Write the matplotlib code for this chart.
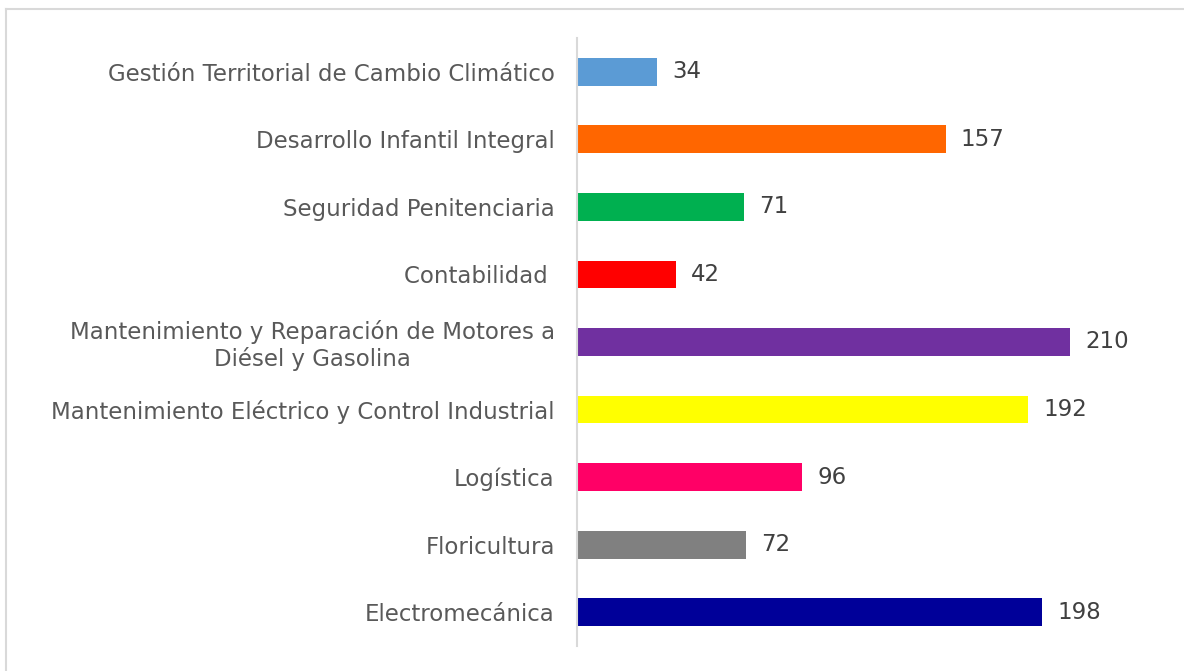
import matplotlib
matplotlib.use("Agg")
import matplotlib.pyplot as plt
from matplotlib.lines import Line2D

categories = [
    "Gestión Territorial de Cambio Climático",
    "Desarrollo Infantil Integral",
    "Seguridad Penitenciaria",
    "Contabilidad ",
    "Mantenimiento y Reparación de Motores a\nDiésel y Gasolina",
    "Mantenimiento Eléctrico y Control Industrial",
    "Logística",
    "Floricultura",
    "Electromecánica",
]
values = [34, 157, 71, 42, 210, 192, 96, 72, 198]
colors = ["#5b9bd5", "#ff6600", "#00b050", "#ff0000", "#7030a0",
          "#ffff00", "#ff0066", "#808080", "#000099"]

plt.rcParams['font.family'] = ['DejaVu Sans']

W, H = 1184, 671
fig = plt.figure(figsize=(W / 100, H / 100), dpi=100)
ax = fig.add_axes([577 / W, 1 - 646 / H, 587 / W, 608 / H])

n = len(categories)
ypos = list(range(n))[::-1]
ax.barh(ypos, values, height=0.41, color=colors, zorder=2)
ax.set_xlim(0, 250)
ax.set_ylim(-0.5, n - 0.5)
ax.set_yticks(ypos)
ax.set_yticklabels(categories, fontsize=16.5, color="#595959", ha="right",
                   multialignment="center", linespacing=1.15)
ax.tick_params(axis="y", length=0, pad=16)
ax.set_xticks([])
for s in ["top", "right", "bottom"]:
    ax.spines[s].set_visible(False)
ax.spines["left"].set_color("#d9d9d9")
ax.spines["left"].set_linewidth(1.5)

for y, v in zip(ypos, values):
    ax.text(v + 6.5, y, str(v), va="center", ha="left", fontsize=16.5,
            color="#404040")

# outer chart border
fig.add_artist(Line2D([6 / W, 6 / W], [0, 1 - 9 / H], transform=fig.transFigure,
                      color="#d9d9d9", lw=1.5))
fig.add_artist(Line2D([6 / W, 1], [1 - 9 / H, 1 - 9 / H], transform=fig.transFigure,
                      color="#d9d9d9", lw=1.5))

fig.savefig("out.png", dpi=100)
